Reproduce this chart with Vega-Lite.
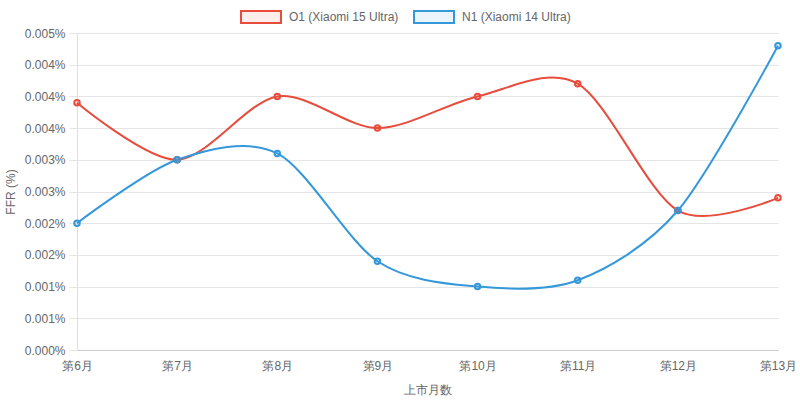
{
  "$schema": "https://vega.github.io/schema/vega-lite/v6.json",
  "width": 701,
  "height": 317,
  "autosize": "none",
  "padding": {"left": 77, "top": 33, "right": 22, "bottom": 51},
  "data": {
    "values": [
      {"month": "第6月", "series": "O1 (Xiaomi 15 Ultra)", "ffr": 0.0039},
      {"month": "第7月", "series": "O1 (Xiaomi 15 Ultra)", "ffr": 0.0030},
      {"month": "第8月", "series": "O1 (Xiaomi 15 Ultra)", "ffr": 0.0040},
      {"month": "第9月", "series": "O1 (Xiaomi 15 Ultra)", "ffr": 0.0035},
      {"month": "第10月", "series": "O1 (Xiaomi 15 Ultra)", "ffr": 0.0040},
      {"month": "第11月", "series": "O1 (Xiaomi 15 Ultra)", "ffr": 0.0042},
      {"month": "第12月", "series": "O1 (Xiaomi 15 Ultra)", "ffr": 0.0022},
      {"month": "第13月", "series": "O1 (Xiaomi 15 Ultra)", "ffr": 0.0024},
      {"month": "第6月", "series": "N1 (Xiaomi 14 Ultra)", "ffr": 0.0020},
      {"month": "第7月", "series": "N1 (Xiaomi 14 Ultra)", "ffr": 0.0030},
      {"month": "第8月", "series": "N1 (Xiaomi 14 Ultra)", "ffr": 0.0031},
      {"month": "第9月", "series": "N1 (Xiaomi 14 Ultra)", "ffr": 0.0014},
      {"month": "第10月", "series": "N1 (Xiaomi 14 Ultra)", "ffr": 0.0010},
      {"month": "第11月", "series": "N1 (Xiaomi 14 Ultra)", "ffr": 0.0011},
      {"month": "第12月", "series": "N1 (Xiaomi 14 Ultra)", "ffr": 0.0022},
      {"month": "第13月", "series": "N1 (Xiaomi 14 Ultra)", "ffr": 0.0048}
    ]
  },
  "encoding": {
    "x": {
      "field": "month",
      "type": "ordinal",
      "sort": ["第6月", "第7月", "第8月", "第9月", "第10月", "第11月", "第12月", "第13月"],
      "scale": {"type": "point", "padding": 0},
      "title": "上市月数",
      "axis": {
        "labelAngle": 0,
        "ticks": false,
        "tickSize": 0,
        "labelPadding": 10,
        "titlePadding": 13,
        "grid": false,
        "domainColor": "#cccccc"
      }
    },
    "y": {
      "field": "ffr",
      "type": "quantitative",
      "scale": {"domain": [0, 0.005], "nice": false, "zero": true},
      "title": "FFR (%)",
      "axis": {
        "values": [0, 0.0005, 0.001, 0.0015, 0.002, 0.0025, 0.003, 0.0035, 0.004, 0.0045, 0.005],
        "labelExpr": "format(datum.value, '.3f') + '%'",
        "tickSize": 8,
        "tickColor": "#e5e5e5",
        "labelPadding": 4,
        "titlePadding": 7,
        "gridColor": "#e5e5e5",
        "domainColor": "#e0e0e0"
      }
    },
    "color": {
      "field": "series",
      "type": "nominal",
      "sort": ["O1 (Xiaomi 15 Ultra)", "N1 (Xiaomi 14 Ultra)"],
      "scale": {"domain": ["O1 (Xiaomi 15 Ultra)", "N1 (Xiaomi 14 Ultra)"], "range": ["#e74c3c", "#3498db"]},
      "legend": {
        "title": null,
        "orient": "none",
        "direction": "horizontal",
        "legendX": 163,
        "legendY": -37,
        "padding": 0,
        "symbolType": "M-1,-0.3H1V0.3H-1Z",
        "symbolSize": 1600,
        "symbolStrokeWidth": 2,
        "labelOffset": 7,
        "columnPadding": 11,
        "encode": {
          "symbols": {
            "update": {
              "fill": {"signal": "datum.value === 'O1 (Xiaomi 15 Ultra)' ? 'rgba(231,76,60,0.1)' : 'rgba(52,152,219,0.1)'"},
              "strokeWidth": {"value": 2}
            }
          }
        }
      }
    }
  },
  "layer": [
    {
      "mark": {"type": "line", "interpolate": "cardinal", "tension": 0.1, "strokeWidth": 2}
    },
    {
      "mark": {"type": "point", "shape": "circle", "size": 30, "strokeWidth": 2, "opacity": 1},
      "encoding": {
        "fill": {
          "field": "series",
          "type": "nominal",
          "scale": {"domain": ["O1 (Xiaomi 15 Ultra)", "N1 (Xiaomi 14 Ultra)"], "range": ["rgba(231,76,60,0.1)", "rgba(52,152,219,0.1)"]},
          "legend": null
        }
      }
    }
  ],
  "config": {
    "view": {"stroke": null},
    "font": "Liberation Sans",
    "axis": {
      "labelFont": "Liberation Sans",
      "labelFontSize": 12,
      "labelColor": "#666666",
      "titleFont": "Liberation Sans",
      "titleFontSize": 12,
      "titleFontWeight": "normal",
      "titleColor": "#666666"
    },
    "legend": {
      "labelFont": "Liberation Sans",
      "labelFontSize": 12,
      "labelColor": "#666666"
    }
  }
}
